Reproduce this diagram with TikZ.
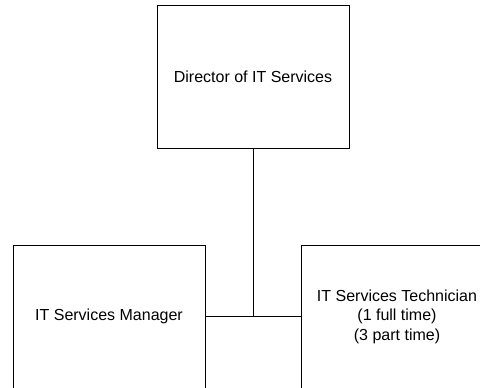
\documentclass[tikz,border=0pt]{standalone}
\usepackage{fontspec}
\setmainfont{Liberation Sans}
\tikzset{
  x=1pt, y=-1pt,
  post/.style={draw=black, line width=0.9pt, minimum width=192pt, minimum height=143pt,
    inner sep=0pt, align=center, font=\fontsize{16}{19.5}\selectfont},
  link/.style={draw=black, line width=0.9pt}
}
\begin{document}
\begin{tikzpicture}
  \useasboundingbox (0,0) rectangle (480,388);
  \clip (0,0) rectangle (480,388);
  \fill[white] (0,0) rectangle (480,388);
  % posts in the team
  \node[post] (dir) at (253,76.5) {Director of IT Services};
  \node[post] (mgr) at (109,316.5) {IT Services Manager};
  \node[post] (tech) at (397,316.5) {IT Services Technician\\(1 full time)\\(3 part time)};
  % reporting lines
  \coordinate (j) at (dir.south |- mgr.east);
  \draw[link] (dir.south) -- (j);
  \draw[link] (mgr.east) -- (tech.west);
\end{tikzpicture}
\end{document}
